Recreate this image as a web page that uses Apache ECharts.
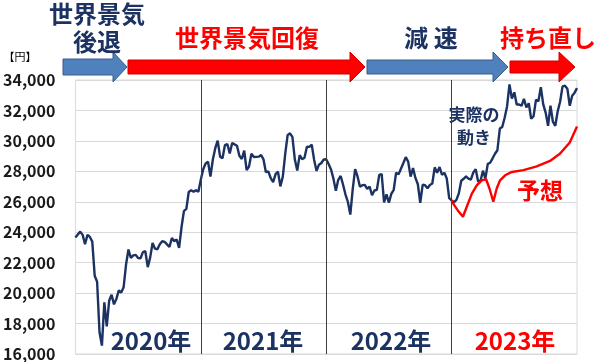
<!DOCTYPE html>
<html>
<head>
<meta charset="utf-8">
<script src="https://cdn.jsdelivr.net/npm/echarts@6/dist/echarts.min.js"></script>
<style>
html,body{margin:0;padding:0;background:#fff;}
#chart{width:600px;height:362px;}
</style>
</head>
<body>
<div id="chart"></div>
<script>
// Weekly closing values (円)
const nikkei2020 = [23657,23850,24041,23827,23205,23827,23688,23386,21142,20749,17431,16552,19389,17820,19498,19897,19262,19619,20179,20037,20388,21877,22863,22305,22478,22512,22306,22290,22696,22751,21710,22329,23289,22920,22882,23205,23406,23360,23204,23029,23619,23410,23516,22977,24325,25385,25527,26644,26751,26652,26763,26656,27444];
const nikkei2021 = [28139,28519,28631,27663,28779,29520,30018,28966,28864,29717,29792,29176,29854,29768,29683,29020,28812,29357,28084,28317,29149,28941,28948,28964,29066,28783,27940,28003,27548,27283,27820,27977,27013,27641,29128,30381,30500,30249,28771,28049,29068,28804,28892,29611,29609,29745,28751,28029,28437,28545,28782,28791];
const nikkei2022 = [28479,28124,27522,26717,27440,27696,27122,26476,25985,25162,26827,28149,27666,26985,27093,27105,26847,27003,26427,26739,26781,27761,27824,25963,26491,25935,26517,26788,27914,27801,28175,28546,28930,28641,27650,28214,27567,27153,25937,27116,27090,26890,27105,27199,28263,27899,28283,27777,27901,27527,26235,26095];
const nikkei2023 = [25973,26120,26553,27382,27509,27670,27513,27453,27927,28143,27333,27385,28041,27518,28493,28564,28856,29157,29388,30808,30916,31524,32265,33706,32781,33189,32388,32391,32304,32759,32192,32473,31450,31624,32710,32606,33533,32402,31857,30994,32315,31259,30991,31950,32568,33585,33625,33431,32307,32970,33169,33464];

// Forecast (予想) line: week index and value
const forecastWeek  = [156,157,158.5,160.7,162.3,164.4,166.5,168.5,170.3,171.7,173.3,174.7,176.1,178.2,181,185.8,191.3,196.8,200.9,205,208];
const forecastValue = [26100,25800,25450,25020,25670,26540,27090,27410,27480,26870,26000,26870,27410,27740,27960,28080,28320,28680,29150,29900,30950];

// Year boundaries (week index) and labels
const yearBoundaries = [52,104,156];
const yearLabels = ['2020年','2021年','2022年','2023年'];

const yMin = 16000, yMax = 34000, yStep = 2000;

const actual = [].concat(nikkei2020, nikkei2021, nikkei2022, nikkei2023);
const actualData = actual.map((v,i)=>[i,v]);
const forecastData = forecastWeek.map((w,i)=>[w, forecastValue[i]]);

const NAVY = '#1b3262';
const RED = '#ff0000';
const FONT = '"Noto Sans CJK JP", "Noto Sans", sans-serif';

function arrow(x0,x1,cy,bh,hh,hl,fill,stroke){
  return {
    type:'polygon', z:10,
    shape:{points:[[x0,cy-bh],[x1-hl,cy-bh],[x1-hl,cy-hh],[x1,cy],[x1-hl,cy+hh],[x1-hl,cy+bh],[x0,cy+bh]]},
    style:{fill:fill, stroke:stroke, lineWidth:1}
  };
}
function txt(t,x,y,size,color){
  return {type:'text', z:20, style:{text:t, x:x, y:y, fill:color, font:'bold '+size+'px '+FONT, align:'center', verticalAlign:'middle'}};
}

const chart = echarts.init(document.getElementById('chart'), null, {renderer:'canvas'});
chart.setOption({
  animation:false,
  backgroundColor:'#fff',
  grid:{left:73, right:23, top:80, bottom:6, show:true, borderColor:'#d9d9d9', borderWidth:1, containLabel:false},
  xAxis:{type:'value', min:0, max:208, show:true,
    axisLine:{show:false}, axisTick:{show:false}, axisLabel:{show:false}, splitLine:{show:false}},
  yAxis:{type:'value', min:yMin, max:yMax, interval:yStep,
    axisLine:{show:false}, axisTick:{show:false},
    axisLabel:{margin:20, color:'#1a1a1a', fontSize:16, fontWeight:'bold', fontFamily:FONT,
      formatter:v=>v.toLocaleString('en-US')},
    splitLine:{lineStyle:{color:'#d9d9d9', width:1}}},
  series:[
    {type:'line', data:actualData, symbol:'none', z:3,
      lineStyle:{color:NAVY, width:2.4},
      markLine:{silent:true, symbol:'none', label:{show:false},
        lineStyle:{color:'#404040', width:1, type:'solid'},
        data:yearBoundaries.map(w=>({xAxis:w}))}},
    {type:'line', data:forecastData, symbol:'none', z:4,
      lineStyle:{color:RED, width:2.4}}
  ],
  graphic:[
    arrow(63,127,67,8,15,14,'#4f81bd','#385d8a'),
    arrow(128,365,67,7,15,15,RED,'#d00000'),
    arrow(367,508,67,7,15,15,'#4f81bd','#385d8a'),
    arrow(510,575,67,6,15,16,RED,'#d00000'),
    txt('世界景気',97,14,24,NAVY),
    txt('後退',97,42,24,NAVY),
    txt('世界景気回復',247,38,24,RED),
    txt('減 速',431,38,24,NAVY),
    txt('持ち直し',548,38,24,RED),
    {type:'text', z:20, style:{text:'【円】', x:20, y:57, fill:'#000', font:'11px '+FONT, align:'center', verticalAlign:'middle'}},
    txt(yearLabels[0],151,341,24,NAVY),
    txt(yearLabels[1],263,341,24,NAVY),
    txt(yearLabels[2],391,341,24,NAVY),
    txt(yearLabels[3],515,341,24,RED),
    txt('実際の',474,115,17,NAVY),
    txt('動き',474,138,17,NAVY),
    txt('予想',540,190,23,RED)
  ]
});
</script>
</body>
</html>
